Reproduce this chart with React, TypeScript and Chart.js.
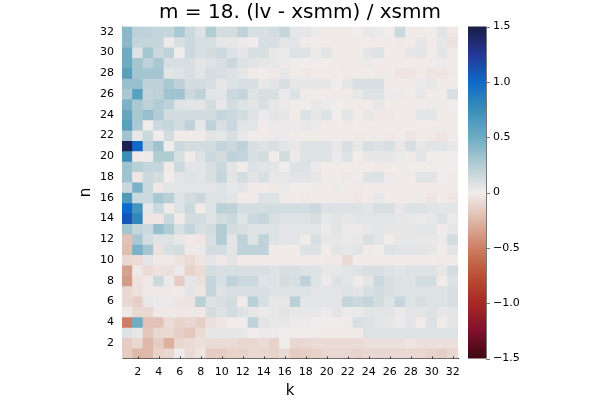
import React, { useEffect, useRef } from 'react';
import { Chart, registerables } from 'chart.js';

Chart.register(...registerables);

const titleText = 'm = 18. (lv - xsmm) / xsmm';
const xLabel = 'k';
const yLabel = 'n';

// categories
const kValues = [1,2,3,4,5,6,7,8,9,10,11,12,13,14,15,16,17,18,19,20,21,22,23,24,25,26,27,28,29,30,31,32];
const nValues = [1,2,3,4,5,6,7,8,9,10,11,12,13,14,15,16,17,18,19,20,21,22,23,24,25,26,27,28,29,30,31,32];

// tick labels
const xTicks = [2,4,6,8,10,12,14,16,18,20,22,24,26,28,30,32];
const yTicks = [2,4,6,8,10,12,14,16,18,20,22,24,26,28,30,32];
const cbTicks = [-1.5,-1.0,-0.5,0,0.5,1.0,1.5];
const cbMin = -1.5;
const cbMax = 1.5;

// values, one row per n (n = 1 .. 32), columns k = 1 .. 32
const zByN: number[][] = [
  /* n=1 */ [-0.15,-0.25,-0.25,-0.12,-0.1,0.01,-0.08,-0.04,-0.15,-0.15,-0.12, -0.12,-0.1,-0.1,-0.12,-0.08,-0.15,-0.14,-0.12,-0.1,-0.1,-0.1, -0.12,-0.1,-0.1,-0.1,-0.1,-0.1,-0.1,-0.12,-0.14,-0.1],
  /* n=2 */ [-0.15,-0.1,-0.25,-0.15,-0.28,-0.1,-0.08,-0.06,-0.08,-0.08,-0.08, -0.1,-0.1,-0.08,-0.12,0.0,-0.1,-0.1,-0.08,-0.08,-0.08,-0.08, -0.08,-0.06,-0.06,-0.06,-0.06,-0.04,-0.06,-0.06,-0.06,-0.06],
  /* n=3 */ [0.08,0.04,-0.18,-0.1,-0.1,-0.14,-0.18,-0.08,0.04,0.04,0.04, 0.04,0.0,0.02,0.02,0.0,0.0,0.0,0.0,-0.01,-0.01,-0.01, -0.01,0.08,0.08,0.08,0.08,0.08,0.08,0.08,0.08,0.08],
  /* n=4 */ [-0.5,0.5,-0.2,-0.2,-0.08,-0.12,-0.1,-0.14,-0.06,-0.03,0.0, 0.0,0.2,0.06,0.04,0.04,0.02,0.02,0.0,0.0,0.0,-0.01, 0.1,0.08,0.06,0.04,0.02,0.06,-0.01,0.08,-0.01,0.06],
  /* n=5 */ [-0.02,-0.1,-0.1,-0.02,-0.02,-0.02,-0.02,-0.02,0.12,0.08,0.12, 0.08,0.04,0.02,0.04,0.06,0.04,0.04,0.04,0.02,0.06,0.02, 0.02,0.06,0.06,0.06,0.02,0.06,0.06,0.08,0.04,0.06],
  /* n=6 */ [-0.1,-0.14,0.04,0.02,0.02,-0.04,-0.04,0.22,0.08,0.1,0.12, -0.01,0.22,0.1,0.04,0.04,0.22,0.06,0.06,0.06,0.06,0.18, 0.15,0.18,0.12,0.08,0.18,0.08,0.1,0.08,0.08,0.1],
  /* n=7 */ [-0.1,-0.06,-0.02,-0.02,-0.02,-0.01,0.06,-0.03,0.18,0.08,0.1, 0.1,0.1,0.1,0.08,0.08,0.08,0.08,0.06,0.06,0.06,0.08, 0.06,0.1,0.12,0.1,0.08,0.08,0.08,0.08,0.08,0.1],
  /* n=8 */ [-0.38,-0.05,-0.02,0.15,0.02,-0.15,0.05,-0.06,0.18,0.1,0.2, 0.15,0.15,0.08,0.08,0.12,0.1,0.2,0.08,0.02,0.08,0.06, -0.01,0.06,0.15,0.1,0.08,0.08,0.12,0.12,-0.01,0.08],
  /* n=9 */ [-0.35,-0.02,-0.08,-0.05,-0.06,0.02,-0.12,-0.08,0.12,0.1,0.1, 0.1,0.1,0.1,0.08,0.1,0.1,0.08,0.08,0.04,0.04,0.06, 0.08,0.1,0.1,0.08,0.06,0.08,0.08,0.08,0.04,0.12],
  /* n=10 */ [-0.1,-0.08,0.06,-0.02,-0.02,-0.05,-0.08,-0.04,0.06,-0.02,0.06, -0.01,-0.01,-0.01,-0.01,-0.01,-0.01,-0.01,-0.01,-0.02,-0.02,-0.08, -0.01,-0.01,-0.01,-0.01,-0.01,-0.01,-0.01,-0.01,-0.02,-0.01],
  /* n=11 */ [-0.22,0.45,0.3,-0.06,0.1,0.12,-0.02,0.02,0.12,0.12,0.06, 0.2,0.2,0.2,-0.01,-0.01,-0.01,0.08,0.08,-0.01,0.06,0.04, 0.06,-0.01,0.0,0.08,0.06,0.06,0.06,0.04,-0.01,0.06],
  /* n=12 */ [-0.2,0.28,0.12,0.08,0.08,0.04,-0.02,-0.03,0.1,0.25,0.06, 0.2,0.08,0.2,0.08,0.06,0.06,-0.01,0.1,0.04,0.04,0.02, 0.04,0.1,0.06,-0.01,0.04,0.04,0.04,0.04,0.02,0.12],
  /* n=13 */ [0.3,0.18,0.15,0.35,0.25,0.1,0.18,0.1,0.12,0.25,0.12, 0.1,0.08,0.08,0.08,0.06,0.06,0.06,0.06,0.02,0.06,0.02, 0.02,0.04,0.06,0.04,0.04,0.04,0.06,0.06,-0.01,0.04],
  /* n=14 */ [1.1,0.8,-0.03,-0.03,0.15,-0.01,0.12,0.12,0.08,0.12,0.15, 0.08,0.15,0.18,0.1,0.08,0.08,0.08,0.1,0.04,0.06,0.04, 0.06,0.06,0.06,0.06,0.04,0.04,0.02,0.04,0.08,0.02],
  /* n=15 */ [1.0,0.7,0.05,0.15,-0.01,0.08,0.15,-0.01,0.08,0.22,0.2, 0.12,0.12,0.12,0.12,0.12,0.12,0.12,0.15,0.08,0.08,0.08, 0.08,0.06,0.1,0.1,0.04,0.08,0.08,0.06,0.06,0.06],
  /* n=16 */ [0.65,0.15,0.15,0.28,0.22,0.08,0.12,0.15,0.08,0.08,0.06, -0.01,-0.01,0.08,0.08,-0.01,-0.01,-0.02,-0.01,-0.01,-0.01,-0.01, -0.03,-0.01,0.04,-0.01,-0.01,-0.01,-0.01,-0.04,-0.01,-0.03],
  /* n=17 */ [0.15,0.45,0.15,-0.02,0.06,0.06,0.06,0.06,0.06,0.08,0.04, 0.06,-0.01,-0.01,-0.02,0.02,0.0,0.0,-0.01,-0.01,0.02,-0.01, -0.02,-0.01,-0.01,-0.01,-0.01,-0.01,-0.01,-0.01,-0.01,-0.01],
  /* n=18 */ [0.32,-0.03,0.15,0.12,0.0,0.06,0.08,0.06,0.1,0.18,0.06, 0.12,0.06,0.1,0.04,0.04,0.06,0.06,0.04,-0.01,-0.01,0.02, -0.01,0.08,0.08,0.02,-0.01,-0.01,0.06,0.06,0.0,-0.01],
  /* n=19 */ [0.32,0.22,0.18,0.18,-0.02,0.15,0.06,0.06,0.1,0.15,0.06, -0.01,0.08,0.06,0.06,0.0,0.08,0.08,0.02,-0.01,-0.01,-0.01, -0.01,-0.01,-0.02,-0.01,-0.01,0.0,-0.01,-0.01,0.0,0.0],
  /* n=20 */ [0.75,-0.02,0.01,0.25,0.25,0.1,-0.01,0.08,0.15,0.12,0.2, 0.18,0.1,0.12,-0.01,0.12,0.02,0.08,0.08,0.08,0.02,0.08, 0.0,0.04,0.04,0.04,0.02,-0.01,0.06,0.0,0.0,0.0],
  /* n=21 */ [1.45,1.0,0.2,0.32,0.0,0.15,0.12,0.12,0.12,0.18,0.15, 0.2,0.1,0.08,0.1,0.06,0.04,0.08,0.08,0.08,0.04,0.1, 0.04,0.1,0.08,0.1,0.04,0.1,0.04,0.06,0.06,0.04],
  /* n=22 */ [0.32,0.04,0.15,0.0,0.12,-0.01,-0.01,-0.01,0.06,0.05,0.1, 0.04,-0.01,-0.01,0.02,0.02,-0.01,-0.01,-0.01,-0.01,-0.01,-0.01, -0.02,-0.01,-0.01,-0.02,-0.01,-0.04,-0.01,-0.02,-0.04,-0.01],
  /* n=23 */ [0.6,0.28,-0.01,0.15,0.18,0.12,0.2,0.05,0.2,0.1,0.15, 0.06,0.06,-0.01,0.02,0.02,0.02,0.04,0.02,-0.01,-0.01,-0.02, -0.01,-0.01,-0.01,-0.01,-0.01,-0.01,-0.01,-0.01,-0.01,-0.01],
  /* n=24 */ [0.55,0.28,0.35,0.25,0.12,0.12,0.12,0.12,0.12,0.18,0.15, 0.12,0.08,0.02,0.06,0.04,-0.01,0.08,0.04,0.08,0.0,0.06, -0.01,0.04,-0.02,-0.02,-0.01,-0.01,0.06,0.06,-0.01,-0.01],
  /* n=25 */ [0.45,0.28,0.2,0.25,0.2,0.08,0.06,0.06,0.12,0.04,0.12, 0.08,0.06,0.1,0.04,0.02,0.0,0.0,0.04,0.02,0.0,-0.01, -0.01,-0.01,0.04,-0.01,-0.01,-0.01,-0.01,0.02,-0.01,0.0],
  /* n=26 */ [0.28,0.6,0.18,0.2,0.32,0.32,0.15,0.2,0.06,0.06,0.15, 0.18,0.08,0.1,0.1,0.02,0.08,-0.01,0.0,-0.01,-0.01,-0.01, 0.04,0.08,0.08,0.02,0.02,-0.01,0.04,-0.01,0.0,0.1],
  /* n=27 */ [0.35,0.35,0.2,0.2,0.28,0.2,0.12,0.12,0.1,0.04,0.08, 0.1,0.1,0.04,0.06,0.1,0.04,0.04,0.04,0.04,0.0,0.04, 0.1,0.1,0.1,-0.01,-0.01,-0.01,0.02,0.04,-0.01,-0.01],
  /* n=28 */ [0.6,0.3,0.3,0.3,0.06,0.08,0.1,0.06,0.12,0.1,0.08, 0.05,-0.01,0.0,-0.02,0.04,-0.01,-0.02,-0.01,-0.01,-0.01,-0.02, -0.01,-0.01,-0.02,-0.01,-0.04,-0.04,-0.01,-0.04,-0.04,-0.02],
  /* n=29 */ [0.5,0.3,0.2,0.28,0.1,0.1,0.1,0.06,0.08,0.1,0.15, 0.08,0.06,0.04,0.04,0.02,0.0,0.0,0.0,0.0,-0.01,-0.01, -0.01,0.02,-0.01,-0.01,-0.01,-0.01,-0.01,-0.01,0.02,-0.01],
  /* n=30 */ [0.5,0.08,0.3,0.15,0.2,0.0,0.15,0.1,0.12,0.15,0.08, 0.05,0.1,0.1,0.04,0.02,0.08,0.08,0.02,0.06,-0.01,-0.01, -0.01,0.06,0.08,-0.01,-0.01,0.04,0.06,-0.01,0.06,-0.01],
  /* n=31 */ [0.4,0.18,0.18,0.18,0.02,0.1,0.15,0.1,0.1,0.05,0.04, 0.02,0.0,0.1,0.1,0.06,0.06,-0.01,0.0,-0.01,-0.01,-0.01, -0.01,-0.01,-0.01,-0.01,-0.02,-0.01,0.04,-0.01,0.04,-0.05],
  /* n=32 */ [0.4,0.2,0.2,0.18,0.18,0.28,0.15,0.08,0.25,0.12,0.12, 0.2,0.1,0.1,0.12,0.18,0.05,0.05,0.02,-0.01,-0.01,-0.01, 0.0,0.04,0.02,0.0,0.15,-0.01,-0.01,0.0,0.06,-0.02],
];

// diverging colormap (value -> colour), red for negative, blue for positive
const cmapValues = [-1.5,-1.25,-1.0,-0.75,-0.5,-0.25,0,0.25,0.5,0.75,1.0,1.25,1.5];
const cmapColors: [number, number, number][] = [
  [60,9,18],[128,16,44],[168,40,38],[187,80,55],[204,127,100],[222,184,168],
  [241,236,236],
  [178,204,212],[110,172,196],[58,142,185],[14,105,200],[38,55,150],[24,28,67],
];

function colorFor(v: number): string {
  const x = Math.max(cbMin, Math.min(cbMax, v));
  let i = 0;
  while (i < cmapValues.length - 2 && x > cmapValues[i + 1]) i++;
  const t = (x - cmapValues[i]) / (cmapValues[i + 1] - cmapValues[i]);
  const a = cmapColors[i], b = cmapColors[i + 1];
  const c = a.map((av, j) => Math.round(av + (b[j] - av) * t));
  return `rgb(${c[0]},${c[1]},${c[2]})`;
}

const colorbarPlugin = {
  id: 'colorbarPlugin',
  afterDraw(chart: any) {
    const ctx = chart.ctx;
    const s = chart.scales.cb;
    const area = chart.chartArea;
    const x0 = area.right + 10;
    const w = 18;
    const top = s.getPixelForValue(cbMax);
    const bottom = s.getPixelForValue(cbMin);
    ctx.save();
    for (let py = Math.floor(top); py < Math.ceil(bottom); py++) {
      const y0 = Math.max(py, top);
      const y1 = Math.min(py + 1, bottom);
      const v = s.getValueForPixel((y0 + y1) / 2);
      ctx.fillStyle = colorFor(v);
      ctx.fillRect(x0, y0, w, y1 - y0);
    }
    ctx.strokeStyle = '#777';
    ctx.lineWidth = 1;
    ctx.beginPath();
    ctx.moveTo(x0 + w + 0.5, top);
    ctx.lineTo(x0 + w + 0.5, bottom);
    for (const t of cbTicks) {
      const py = Math.round(s.getPixelForValue(t)) + 0.5;
      ctx.moveTo(x0 + w, py);
      ctx.lineTo(x0 + w + 4, py);
    }
    ctx.stroke();
    // small inward ticks on the bottom axis
    const xs = chart.scales.x;
    ctx.strokeStyle = '#333';
    ctx.beginPath();
    for (const t of xTicks) {
      const px = Math.round(xs.getPixelForValue(t)) + 0.5;
      ctx.moveTo(px, area.bottom);
      ctx.lineTo(px, area.bottom - 2);
    }
    ctx.stroke();
    ctx.restore();
  },
};

export default function App() {
  const ref = useRef<HTMLCanvasElement | null>(null);
  useEffect(() => {
    if (!ref.current) return;
    const points: any[] = [];
    const colors: string[] = [];
    nValues.forEach((n, ni) => {
      kValues.forEach((k, ki) => {
        points.push({ x: k, y: [n - 0.5, n + 0.5] });
        colors.push(colorFor(zByN[ni][ki]));
      });
    });
    const font = 'DejaVu Sans';
    const chart = new Chart(ref.current, {
      type: 'bar',
      data: {
        datasets: [
          {
            data: points,
            backgroundColor: colors,
            borderWidth: 0,
            barPercentage: 1,
            categoryPercentage: 1,
          } as any,
        ],
      },
      options: {
        responsive: false,
        animation: false,
        devicePixelRatio: 1,
        layout: { padding: 0 },
        plugins: {
          legend: { display: false },
          tooltip: { enabled: false },
          title: {
            display: true,
            text: titleText,
            color: '#000',
            font: { family: font, size: 20, weight: 'normal', lineHeight: 1.2 },
            padding: { top: 1, bottom: 1.5 },
          },
        },
        scales: {
          x: {
            type: 'linear',
            min: 0.5,
            max: 32.5,
            offset: false,
            afterFit: (s: any) => { s.height = 41.5; s.paddingLeft = 0; s.paddingRight = 0; },
            afterBuildTicks: (s: any) => { s.ticks = xTicks.map((v) => ({ value: v })); },
            grid: { display: false, drawTicks: false },
            border: { display: true, color: '#222', width: 1 },
            ticks: { color: '#000', font: { family: font, size: 11 }, padding: 7, maxRotation: 0, autoSkip: false },
            title: { display: true, text: xLabel, color: '#000', font: { family: font, size: 15 }, padding: { top: 0, bottom: 0 } },
          },
          y: {
            type: 'linear',
            min: 0.5,
            max: 32.5,
            afterFit: (s: any) => { s.width = 122; s.paddingTop = 0; s.paddingBottom = 0; },
            afterBuildTicks: (s: any) => { s.ticks = yTicks.map((v) => ({ value: v })); },
            grid: { display: false, drawTicks: false },
            border: { display: true, color: '#999', width: 1 },
            ticks: { color: '#000', font: { family: font, size: 11 }, padding: 8, autoSkip: false },
            title: { display: true, text: yLabel, color: '#000', font: { family: font, size: 15 }, padding: { top: 77, bottom: 0 } },
          },
          cb: {
            type: 'linear',
            position: 'right',
            min: cbMin,
            max: cbMax,
            afterFit: (s: any) => { s.width = 142; s.paddingTop = 0; s.paddingBottom = 0; },
            afterBuildTicks: (s: any) => { s.ticks = cbTicks.map((v) => ({ value: v })); },
            grid: { display: false, drawOnChartArea: false, drawTicks: false },
            border: { display: false },
            ticks: {
              color: '#000',
              font: { family: font, size: 11 },
              padding: 35,
              autoSkip: false,
              callback: (v: any) => {
                const num = Number(v);
                if (num === 0) return '0';
                return (num < 0 ? '\u2212' : '') + Math.abs(num).toFixed(1);
              },
            },
          },
        },
      } as any,
      plugins: [colorbarPlugin],
    });
    return () => chart.destroy();
  }, []);
  return (
    <div style={{ position: 'absolute', left: 0, top: 0, width: 600, height: 400, background: '#fff' }}>
      <canvas ref={ref} width={600} height={400} />
    </div>
  );
}
